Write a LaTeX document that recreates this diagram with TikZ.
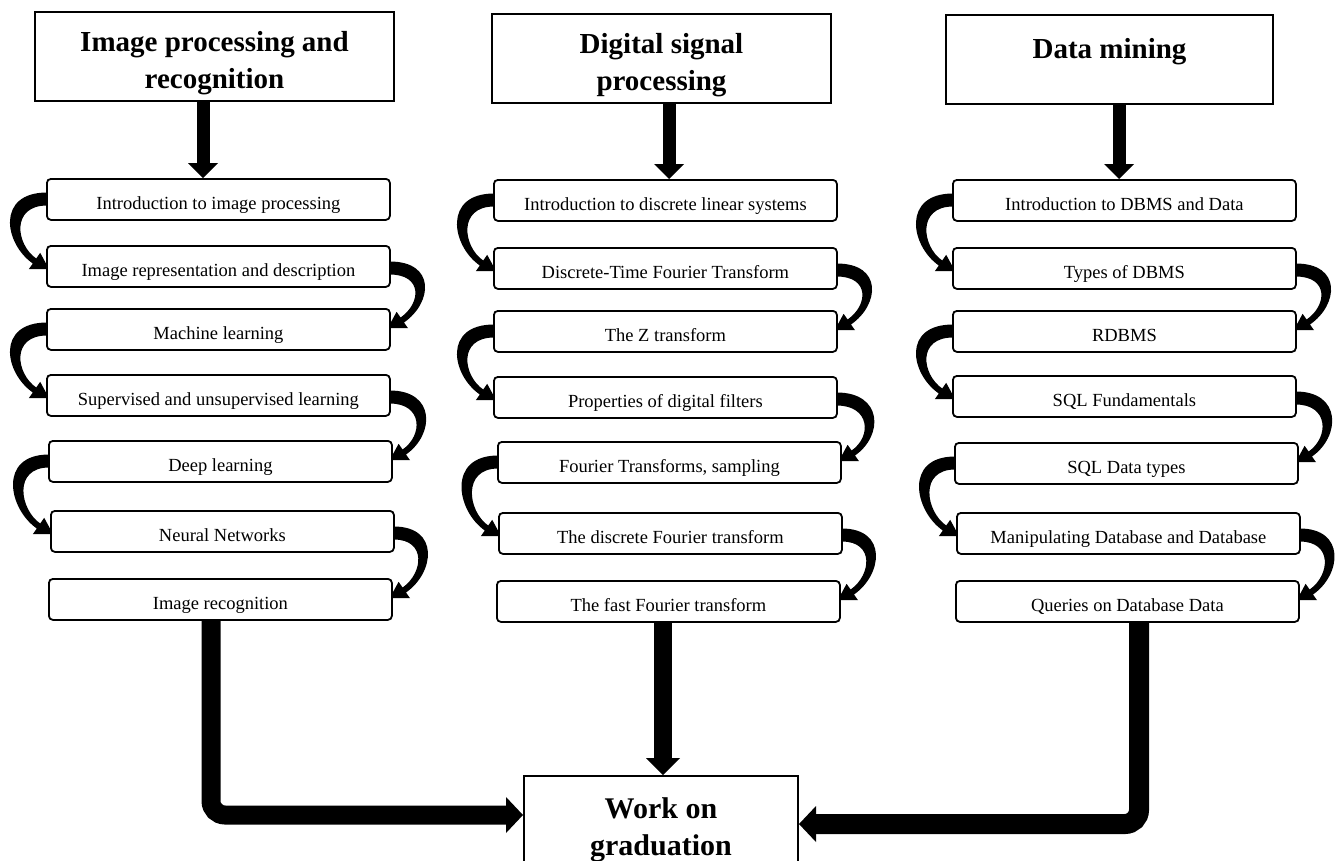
\documentclass[tikz,border=0pt]{standalone}
\usepackage{fontspec}
\setmainfont{Liberation Serif}
\usetikzlibrary{arrows.meta,calc}
\pgfdeclarelayer{background}
\pgfsetlayers{background,main}
\tikzset{
  stepbox/.style={draw, line width=1.8pt, rounded corners=4pt, fill=white,
    minimum width=343pt, minimum height=41pt, inner sep=0pt,
    text height=21pt, text depth=0pt, anchor=north west,
    font=\fontsize{18.5}{22}\selectfont},
  headbox/.style={draw, line width=2pt, fill=white, inner sep=0pt, anchor=north,
    minimum height=89pt, align=center, font=\fontsize{29}{37}\selectfont\bfseries},
  workbox/.style={draw, line width=2pt, fill=white, inner sep=0pt, anchor=north west,
    minimum width=274pt, minimum height=120pt, align=center,
    font=\fontsize{30}{37}\selectfont\bfseries},
  downarrow/.style={line width=13pt, -{Triangle[width=30pt,length=15pt,line width=0pt]}},
  midarrow/.style={line width=18pt, -{Triangle[width=34pt,length=17pt,line width=0pt]}},
  sidearrow/.style={line width=19pt, rounded corners=14pt, -{Triangle[width=36pt,length=17pt,line width=0pt]}},
  curvefill/.style={fill=black},
}
\newcommand\lcurve[2]{%
  \path[curvefill] let \p1=([yshift=-21pt]#1.north west), \p2=([yshift=-24pt]#2.north west) in
  (\x1+1pt,\y1+6.5pt) .. controls (\x1-50pt,\y1+6.5pt) and (\x2-41.9pt,\y2+25.5pt) .. (\x2-13.2pt,\y2+5.5pt)
  -- (\x2-17.2pt,\y2-0.2pt) -- (\x2+3pt,\y2) -- (\x2-5.8pt,\y2+16.2pt) -- (\x2-9.8pt,\y2+10.5pt)
  .. controls (\x2-30.3pt,\y2+24.75pt) and (\x1-35pt,\y1-6.5pt) .. (\x1+1pt,\y1-6.5pt) -- cycle;}
\newcommand\rcurve[2]{%
  \path[curvefill] let \p1=([yshift=-23pt]#1.north east), \p2=([yshift=-20pt]#2.north east) in
  (\x1-1pt,\y1+6.5pt) .. controls (\x1+45pt,\y1+6.5pt) and (\x2+41.9pt,\y2+25.5pt) .. (\x2+13.2pt,\y2+5.5pt)
  -- (\x2+17.2pt,\y2-0.2pt) -- (\x2-3pt,\y2) -- (\x2+5.8pt,\y2+16.2pt) -- (\x2+9.8pt,\y2+10.5pt)
  .. controls (\x2+30.3pt,\y2+24.75pt) and (\x1+32pt,\y1-6.5pt) .. (\x1-1pt,\y1-6.5pt) -- cycle;}
\begin{document}
\begin{tikzpicture}[x=1pt,y=-1pt]
\useasboundingbox (0,0) rectangle (1338,860);
% headers
\node[headbox, minimum width=359pt] (h1) at (214.5,11)
  {\rule{0pt}{39pt}Image processing and\\recognition\rule[-13pt]{0pt}{13pt}};
\node[headbox, minimum width=339pt] (h2) at (661.5,13)
  {\rule{0pt}{39pt}Digital signal\\processing\rule[-13pt]{0pt}{13pt}};
\node[headbox, minimum width=327pt] (h3) at (1109.5,14)
  {\rule[-46pt]{0pt}{89pt}Data mining};
% column A
\node[stepbox] (a1) at (46,178) {Introduction to image processing};
\node[stepbox] (a2) at (46,245) {Image representation and description};
\node[stepbox] (a3) at (46,308) {Machine learning};
\node[stepbox] (a4) at (46,374) {Supervised and unsupervised learning};
\node[stepbox] (a5) at (48,440) {Deep learning};
\node[stepbox] (a6) at (50,510) {Neural Networks};
\node[stepbox] (a7) at (48,578) {Image recognition};
% column B
\node[stepbox] (b1) at (493,179) {Introduction to discrete linear systems};
\node[stepbox] (b2) at (493,247) {Discrete-Time Fourier Transform};
\node[stepbox] (b3) at (493,310) {The Z transform};
\node[stepbox] (b4) at (493,376) {Properties of digital filters};
\node[stepbox] (b5) at (497,441) {Fourier Transforms, sampling};
\node[stepbox] (b6) at (498,512) {The discrete Fourier transform};
\node[stepbox] (b7) at (496,580) {The fast Fourier transform};
% column C
\node[stepbox] (c1) at (952,179) {Introduction to DBMS and Data};
\node[stepbox] (c2) at (952,247) {Types of DBMS};
\node[stepbox] (c3) at (952,310) {RDBMS};
\node[stepbox] (c4) at (952,375) {SQL Fundamentals};
\node[stepbox] (c5) at (954,442) {SQL Data types};
\node[stepbox] (c6) at (956,512) {Manipulating Database and Database};
\node[stepbox] (c7) at (955,580) {Queries on Database Data};
% final box
\node[workbox] (work) at (523,775)
  {\rule{0pt}{42pt}Work on\\graduation\rule[-41pt]{0pt}{41pt}};
\coordinate (lturn) at (211,815);
\coordinate (rturn) at (1139,824);
\coordinate (mcol) at (663,700);
\begin{pgfonlayer}{background}
\draw[downarrow] ([xshift=-11.5pt]h1.south) -- ([xshift=-11.5pt]h1.south |- a1.north);
\draw[downarrow] ([xshift=7.5pt]h2.south) -- ([xshift=7.5pt]h2.south |- b1.north);
\draw[downarrow] ([xshift=9.5pt]h3.south) -- ([xshift=9.5pt]h3.south |- c1.north);
\lcurve{a1}{a2}\rcurve{a2}{a3}\lcurve{a3}{a4}\rcurve{a4}{a5}\lcurve{a5}{a6}\rcurve{a6}{a7}
\lcurve{b1}{b2}\rcurve{b2}{b3}\lcurve{b3}{b4}\rcurve{b4}{b5}\lcurve{b5}{b6}\rcurve{b6}{b7}
\lcurve{c1}{c2}\rcurve{c2}{c3}\lcurve{c3}{c4}\rcurve{c4}{c5}\lcurve{c5}{c6}\rcurve{c6}{c7}
\draw[sidearrow] (a7.south -| lturn) |- (work.west |- lturn);
\draw[sidearrow, line width=20pt] (c7.south -| rturn) |- (work.east |- rturn);
\draw[midarrow] (b7.south -| mcol) -- (work.north -| mcol);
\end{pgfonlayer}
\end{tikzpicture}
\end{document}
